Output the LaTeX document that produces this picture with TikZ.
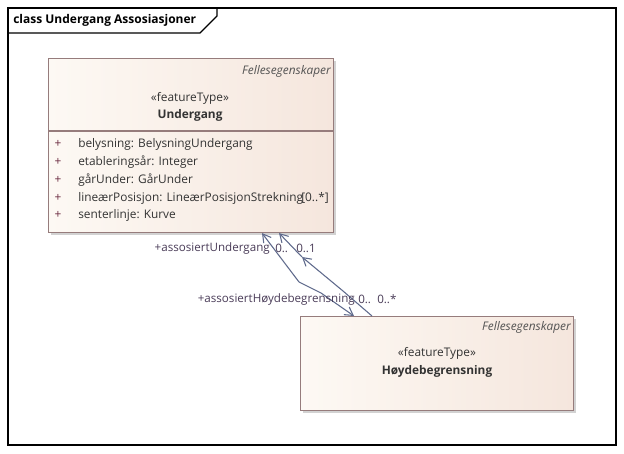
\documentclass[tikz,border=0pt]{standalone}
\usepackage{fontspec}
\setmainfont{Open Sans}
\usetikzlibrary{arrows.meta,shadows,calc}
\definecolor{boxline}{HTML}{967C7C}
\definecolor{boxleft}{HTML}{FDF9F4}
\definecolor{boxright}{HTML}{F5E6DD}
\definecolor{conn}{HTML}{5F6A8C}
\definecolor{txt}{HTML}{333333}
\definecolor{lbl}{HTML}{4A3C58}
\definecolor{plus}{HTML}{6A2A40}
\begin{document}
\begin{tikzpicture}[x=0.75pt,y=-0.75pt,
  umlbox/.style={draw=boxline, line width=0.8pt, left color=boxleft, right color=boxright,
    drop shadow={shadow xshift=2pt, shadow yshift=-2pt, fill=black!35, opacity=0.5},
    anchor=north west, inner sep=0pt},
  stereo/.style={font=\fontsize{8.9}{10}\selectfont, text=txt, inner sep=0pt},
  cname/.style={font=\fontsize{8.9}{10}\selectfont\bfseries, text=txt, inner sep=0pt},
  pkg/.style={font=\fontsize{8.9}{10}\selectfont\itshape, text=txt!85, inner sep=0pt, anchor=east},
  attr/.style={font=\fontsize{8.9}{10}\selectfont, text=txt, inner sep=0pt, anchor=west},
  plussign/.style={font=\fontsize{8.9}{10}\selectfont, text=plus, inner sep=0pt},
  role/.style={font=\fontsize{8.7}{10}\selectfont, text=lbl, inner sep=0pt},
  assoc/.style={draw=conn, line width=0.8pt},
  navtip/.style={-{Straight Barb[length=6pt,width=7pt,line width=0.8pt]}}
]
\useasboundingbox (0,0) rectangle (624,453);
\fill[white] (0,0) rectangle (624,453);
% frame
\draw[line width=0.9pt] (8,8) rectangle (616,445);
\draw[line width=0.9pt] (8,33) -- (200,33) -- (217,16) -- (217,8);
\node[font=\fontsize{9}{10}\selectfont\bfseries, anchor=west, inner sep=0pt] (title) at (13,20) {class Undergang Assosiasjoner};

% Undergang
\node[umlbox, minimum width=213.75pt, minimum height=130.5pt] (U) at (48,58) {};
\draw[draw=boxline, line width=0.8pt] (48,131) -- (333,131);
\node[pkg] (Upkg) at (331,71) {Fellesegenskaper};
\node[stereo] (Ust) at (190,98) {«featureType»};
\node[cname] (Un) at (190,115) {Undergang};
\foreach \y/\t [count=\i] in {144/belysning: BelysningUndergang,
  162/etableringsår: Integer,
  180/gårUnder: GårUnder,
  198/lineærPosisjon: LineærPosisjonStrekning,
  215/senterlinje: Kurve}{
  \node[plussign] (Up\i) at (58,\y) {+};
  \node[attr] (Ua\i) at (78,\y) {\t};
}
\node[attr, anchor=east] (Ua4m) at (329,198) {[0..*]};

% Høydebegrensning
\node[umlbox, minimum width=204.75pt, minimum height=70.5pt] (H) at (300,316) {};
\node[pkg] (Hpkg) at (571,327) {Fellesegenskaper};
\node[stereo] (Hst) at (437,353) {«featureType»};
\node[cname] (Hn) at (437,371) {Høydebegrensning};

% connection points
\coordinate (UA) at ($(U.south west)+(214,0)$);
\coordinate (UB) at ($(U.south west)+(231,0)$);
\coordinate (HA) at ($(H.north west)+(54,0)$);
\coordinate (HB) at ($(H.north west)+(72,0)$);
\coordinate (mid) at (302,257);

% association A
\draw[assoc,navtip] (299,282) -- (UA);
\draw[assoc,navtip] (299,282) -- (321,293) -- (HA);
% association B
\draw[assoc,navtip] (mid) -- (UB);
\draw[assoc,navtip] (HB) -- (343,291) -- (mid);

% role labels
\node[role, anchor=east] (r1) at (270,248) {+assosiertUndergang};
\node[role, anchor=west] (m1) at (275,248) {0..};
\node[role, anchor=west] (m2) at (296,248) {0..1};
\node[role, anchor=east] (r2) at (355,299) {+assosiertHøydebegrensning};
\node[role, anchor=west] (m3) at (358,299) {0..};
\node[role, anchor=west] (m4) at (377,299) {0..*};
\end{tikzpicture}
\end{document}
